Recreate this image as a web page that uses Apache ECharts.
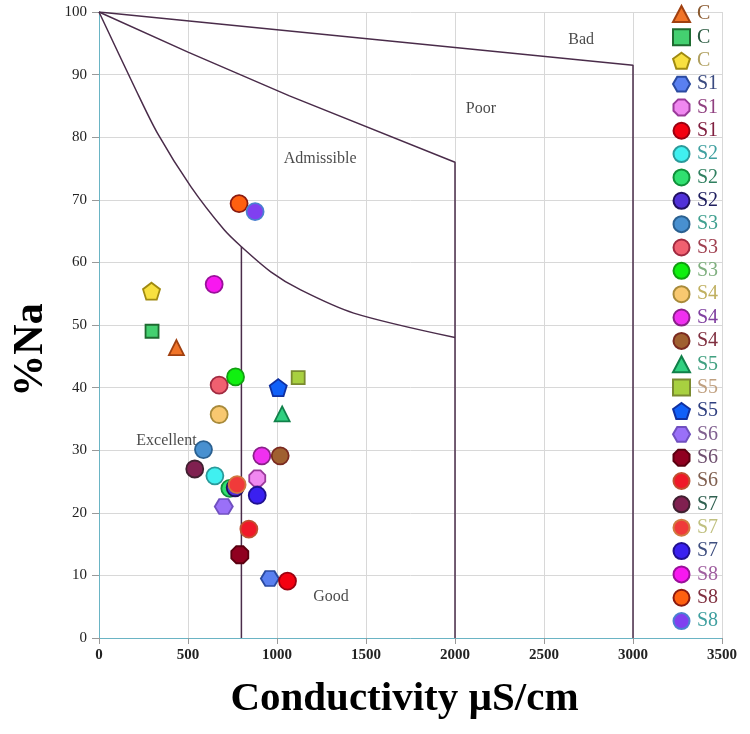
<!DOCTYPE html>
<html>
<head>
<meta charset="utf-8">
<script src="https://cdn.jsdelivr.net/npm/echarts@6/dist/echarts.min.js"></script>
<style>html,body{margin:0;padding:0;background:#fff}#chart{width:750px;height:734px}</style>
</head>
<body>
<div id="chart"></div>
<script>
// ---- data ----
const sampleNames = ['C','C','C','S1','S1','S1','S2','S2','S2','S3','S3','S3','S4','S4','S4','S5','S5','S5','S6','S6','S6','S7','S7','S7','S8','S8','S8'];
const conductivity = [435, 298, 295, 960, 889, 1059, 651, 735, 765, 587, 675, 767, 675, 915, 1018, 1029, 1119, 1007, 701, 791, 842, 538, 776, 889, 647, 787, 877];
const sodiumPct = [46.4, 49.0, 55.4, 9.5, 25.5, 9.1, 25.9, 23.9, 24.0, 30.1, 40.4, 41.7, 35.7, 29.1, 29.1, 35.8, 41.6, 40.0, 21.0, 13.3, 17.4, 27.0, 24.5, 22.8, 56.5, 69.4, 68.1];
const xTicks = [0, 500, 1000, 1500, 2000, 2500, 3000, 3500];
const yTicks = [0, 10, 20, 30, 40, 50, 60, 70, 80, 90, 100];
// classification boundaries (EC, %Na)
const badLine = [[0, 100], [3000, 91.5], [3000, 0]];
const poorLine = [[0, 100], [500, 93.6], [1070, 86.6], [2000, 76], [2000, 0]];
const admissibleCurve = [[0, 100], [198, 88.1], [329, 80.6], [516, 72.1], [703, 65.2], [800, 62.5], [965, 58.5], [1133, 55.6], [1431, 51.9], [2000, 48]];
const excellentLine = [[800, 62.5], [800, 0]];
const zoneLabels = ['Bad', 'Poor', 'Admissible', 'Excellent', 'Good'];
const zoneLabelPos = [[2709, 95.6], [2146, 84.5], [1242, 76.5], [379, 31.5], [1303, 6.6]];

// ---- styles ----
const PENT = 'path://M0,-1 L0.951,-0.309 L0.588,0.809 L-0.588,0.809 L-0.951,-0.309 Z';
const HEX = 'path://M-1,0 L-0.5,-0.866 L0.5,-0.866 L1,0 L0.5,0.866 L-0.5,0.866 Z';
const OCT = 'path://M-0.383,-0.924 L0.383,-0.924 L0.924,-0.383 L0.924,0.383 L0.383,0.924 L-0.383,0.924 L-0.924,0.383 L-0.924,-0.383 Z';
const symbols = ['triangle','rect',PENT,HEX,OCT,'circle','circle','circle','circle','circle','circle','circle','circle','circle','circle','triangle','rect',PENT,HEX,OCT,'circle','circle','circle','circle','circle','circle','circle'];
const sizes = [15,13,17,[18,15],16,17,17,17,17,17,17,17,17,17,17,15,13,17,[18,15],17,17,17,17,17,17,17,17];
const fills = ['#f07428','#44d070','#f8e040','#5a80f0','#f088f0','#f40010','#40f0f0','#30e070','#5030d8','#4890d0','#f06070','#10f010','#f8c870','#f030f0','#a06030','#30d080','#a8d040','#1060f8','#9a70f8','#900020','#f01828','#802050','#f03a3a','#3a20f0','#f818f0','#ff6010','#8040f0'];
const borders = ['#a04010','#1e6a30','#a08a10','#2a4aa0','#9a3a9a','#9a0010','#2a9a9a','#10903a','#201060','#2a6090','#a02a40','#10a010','#a88a3a','#8a208a','#7a2a20','#10804a','#7a8a30','#1030a0','#7050c0','#5a0010','#c05030','#402030','#d07a40','#201090','#9a109a','#8a1a10','#4a80d0'];
const legendTextColors = ['#8a5a30','#2a5a40','#b0a060','#3a4a80','#904080','#802040','#40a0a0','#308060','#202060','#40a090','#a04050','#80b080','#c0b060','#8040a0','#803040','#40a080','#c0a080','#304080','#806090','#705070','#806050','#306050','#c0c080','#405080','#a060a0','#803040','#40a0a0'];

const SERIF = '"Liberation Serif", "DejaVu Serif", serif';
const LINE_COLOR = '#4a2c4a';

const chart = echarts.init(document.getElementById('chart'), null, {renderer: 'canvas'});

const series = [];
function boundary(data, smooth) {
  series.push({
    type: 'line', data: data, symbol: 'none', smooth: smooth || false,
    lineStyle: {color: LINE_COLOR, width: 1.5}, silent: true, z: 2,
    legendHoverLink: false
  });
}
boundary(badLine);
boundary(poorLine);
boundary(admissibleCurve, 0.3);
boundary(excellentLine);

series.push({
  type: 'scatter', symbol: 'circle', symbolSize: 1, silent: true, z: 3,
  itemStyle: {color: 'rgba(0,0,0,0)'},
  data: zoneLabelPos.map((p, i) => ({value: p, label: {show: true, formatter: zoneLabels[i]}})),
  label: {show: true, position: 'inside', color: '#1a1a1a', fontFamily: SERIF, fontSize: 16}
});

const legendData = [];
sampleNames.forEach((n, i) => {
  const id = n + '|' + i;
  legendData.push({name: id, textStyle: {color: legendTextColors[i]}});
  series.push({
    name: id, type: 'scatter', z: 5,
    symbol: symbols[i], symbolSize: sizes[i],
    data: [[conductivity[i], sodiumPct[i]]],
    itemStyle: {color: fills[i], borderColor: borders[i], borderWidth: 1.8, opacity: 1}
  });
});

chart.setOption({
  animation: false,
  backgroundColor: '#fff',
  grid: {left: 99, right: 28, top: 12, bottom: 96, containLabel: false, outerBoundsMode: 'none'},
  legend: {
    data: legendData, orient: 'vertical', left: 667, top: -1,
    itemWidth: 17, itemHeight: 16, itemGap: 3.35, selectedMode: false,
    formatter: n => n.split('|')[0],
    textStyle: {fontFamily: SERIF, fontSize: 20, lineHeight: 20, padding: [0, 0, 0, 2]}
  },
  xAxis: {
    type: 'value', min: 0, max: 3500, interval: 500,
    name: 'Conductivity µS/cm', nameLocation: 'middle', nameGap: 41,
    nameTextStyle: {fontFamily: SERIF, fontSize: 41, fontWeight: 'bold', color: '#000', padding: [0, 12, 0, 0]},
    axisLine: {show: true, onZero: false, lineStyle: {color: '#6ab4c4', width: 1}},
    axisTick: {show: true, length: 6, lineStyle: {color: '#999'}},
    axisLabel: {fontFamily: SERIF, fontSize: 15, fontWeight: 'bold', color: '#222', margin: 10,
      formatter: v => xTicks.indexOf(v) >= 0 ? String(v) : ''},
    splitLine: {show: true, lineStyle: {color: '#d8d8d8', width: 1}}
  },
  yAxis: {
    type: 'value', min: 0, max: 100, interval: 10,
    name: '%Na', nameLocation: 'middle', nameGap: 47,
    nameTextStyle: {fontFamily: SERIF, fontSize: 42, fontWeight: 'bold', color: '#000', padding: [0, 50, 0, 0]},
    axisLine: {show: true, onZero: false, lineStyle: {color: '#6ab4c4', width: 1}},
    axisTick: {show: true, length: 7, lineStyle: {color: '#999'}},
    axisLabel: {fontFamily: SERIF, fontSize: 15, color: '#222', margin: 12,
      formatter: v => yTicks.indexOf(v) >= 0 ? String(v) : ''},
    splitLine: {show: true, lineStyle: {color: '#d8d8d8', width: 1}}
  },
  series: series
});
</script>
</body>
</html>
